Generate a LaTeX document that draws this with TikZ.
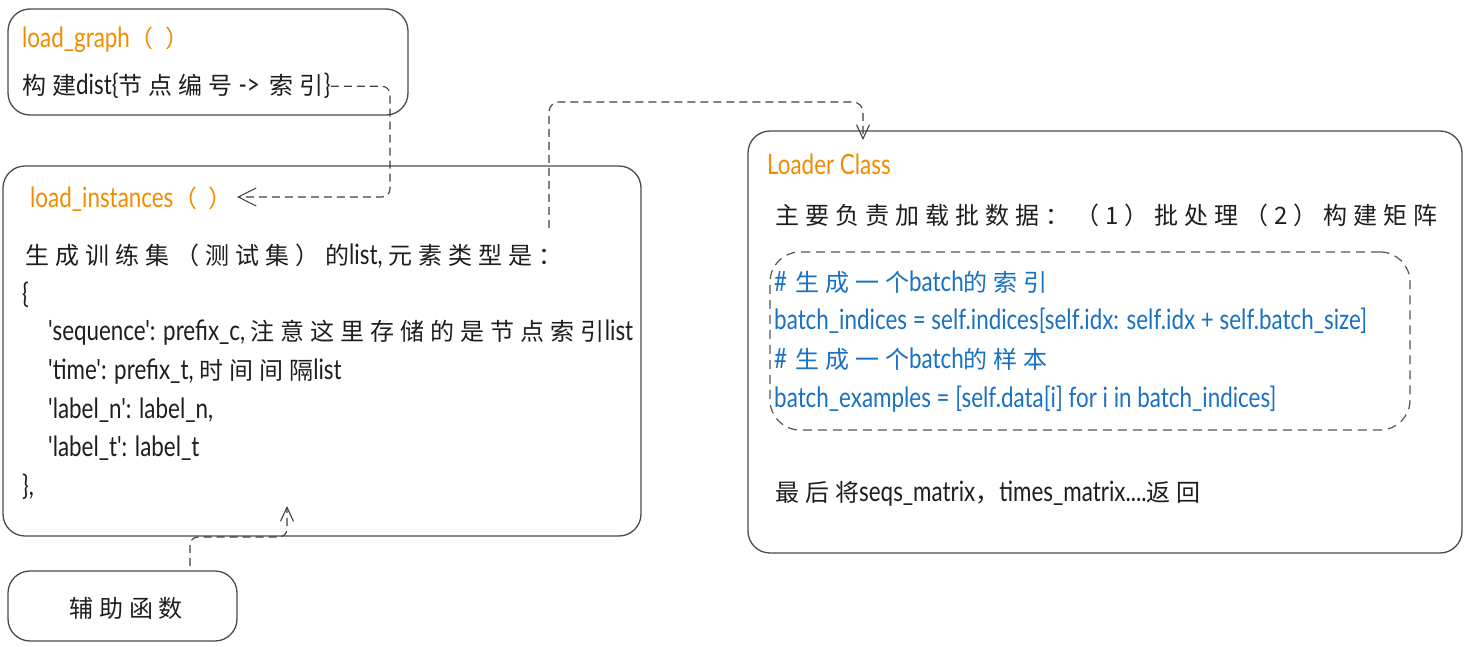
\documentclass[tikz,border=0pt]{standalone}
\usepackage{fontspec}
\setmainfont{Lato}[FakeStretch=0.8, Ligatures=TeXOff]
\newfontfamily\zhfont{Noto Sans CJK SC}[Scale=0.857, LetterSpace=25, Ligatures=TeXOff]
\newcommand\zh[1]{{\zhfont #1}}
\usetikzlibrary{arrows.meta}
\definecolor{ink}{HTML}{1E1E1E}
\definecolor{orng}{HTML}{F08C00}
\definecolor{blu}{HTML}{1971C2}
\tikzset{
  box/.style={draw=ink!80, line width=1.3pt, rounded corners=22pt, inner sep=0pt},
  innerbox/.style={draw=ink!75, line width=1.2pt, rounded corners=30pt, dash pattern=on 9pt off 6pt, inner sep=0pt},
  txt/.style={anchor=base west, inner sep=0pt, font=\fontsize{28}{34}\selectfont, text=ink},
  ttl/.style={txt, text=orng},
  code/.style={txt, text=blu},
  conn/.style={draw=ink!85, line width=1.1pt, dash pattern=on 8pt off 5pt},
  tipL/.style={-{Straight Barb[length=18pt,width=18pt,line width=1.1pt]}},
  tipS/.style={-{Straight Barb[length=14pt,width=13pt,line width=1.1pt]}},
}
\begin{document}
\begin{tikzpicture}[x=1pt,y=-1pt]
\useasboundingbox[fill=white] (0,0) rectangle (1468,647);
% boxes
\node[box, minimum width=400pt, minimum height=106pt] (b1) at (208,62) {};
\node[box, minimum width=638pt, minimum height=370pt] (b2) at (322,351) {};
\node[box, minimum width=229pt, minimum height=70pt] (b3) at (122.5,606) {};
\node[box, minimum width=714pt, minimum height=422pt] (b4) at (1105,342) {};
\node[innerbox, minimum width=640pt, minimum height=178pt] (b5) at (1090,341) {};
% box 1
\node[ttl] (t1) at (22,48) {load\_graph\zh{（ ）}};
\node[txt] (g1) at (22,95) {\zh{构建}dist\{\zh{节点编号}\hspace{6pt}->\hspace{10pt}\zh{索引}\}\hspace{4pt}};
% box 2
\node[ttl] (t2) at (30,208) {load\_instances\zh{（ ）}};
\node[txt] (l1) at (25,265) {\zh{生成训练集（测试集）的}list, \zh{元素类型是：}};
\node[txt] (l2) at (22,303) {\{};
\node[txt] (l3) at (48,341) {'sequence': prefix\_c, \zh{注意这里存储的是节点索引}list};
\node[txt] (l4) at (48,379) {'time': prefix\_t, \zh{时间间隔}list};
\node[txt] (l5) at (48,418) {'label\_n': label\_n,};
\node[txt] (l6) at (48,456) {'label\_t': label\_t};
\node[txt] (l7) at (22,495) {\},};
% box 3
\node[txt, anchor=center] (t3) at (126,608) {\zh{辅助函数}};
% box 4
\node[ttl] (t4) at (767,175) {Loader Class};
\node[txt] (m1) at (775,225) {\zh{主要负责加载批数据：（1）批处理（2）构建矩阵}};
\node[code] (k1) at (774,291) {\#\hspace{8pt}\zh{生成一个}batch\zh{的索引}};
\node[code] (k2) at (774,329) {batch\_indices = self.indices[self.idx: self.idx + self.batch\_size]};
\node[code] (k3) at (774,368) {\#\hspace{8pt}\zh{生成一个}batch\zh{的样本}};
\node[code] (k4) at (774,407) {batch\_examples = [self.data[i] for i in batch\_indices]};
\node[txt] (m2) at (775,501) {\zh{最后将}seqs\_matrix\zh{，}times\_matrix....\zh{返回}};
% connectors
\coordinate (p1) at (390,150);
\coordinate (e1) at (237,197);
\draw[conn, tipL, rounded corners=8pt] (g1.east) -| (p1) |- (e1);
\coordinate (s2) at (549,228);
\coordinate (p2) at (863,102);
\coordinate (e2) at (863,140);
\draw[conn, tipS, rounded corners=10pt] (s2) |- (p2) -- (e2);
\coordinate (s3) at (190,566);
\coordinate (p3) at (287,537);
\coordinate (e3) at (287,506);
\draw[conn, tipS, rounded corners=8pt] (s3) |- (p3) -- (e3);
\end{tikzpicture}
\end{document}
